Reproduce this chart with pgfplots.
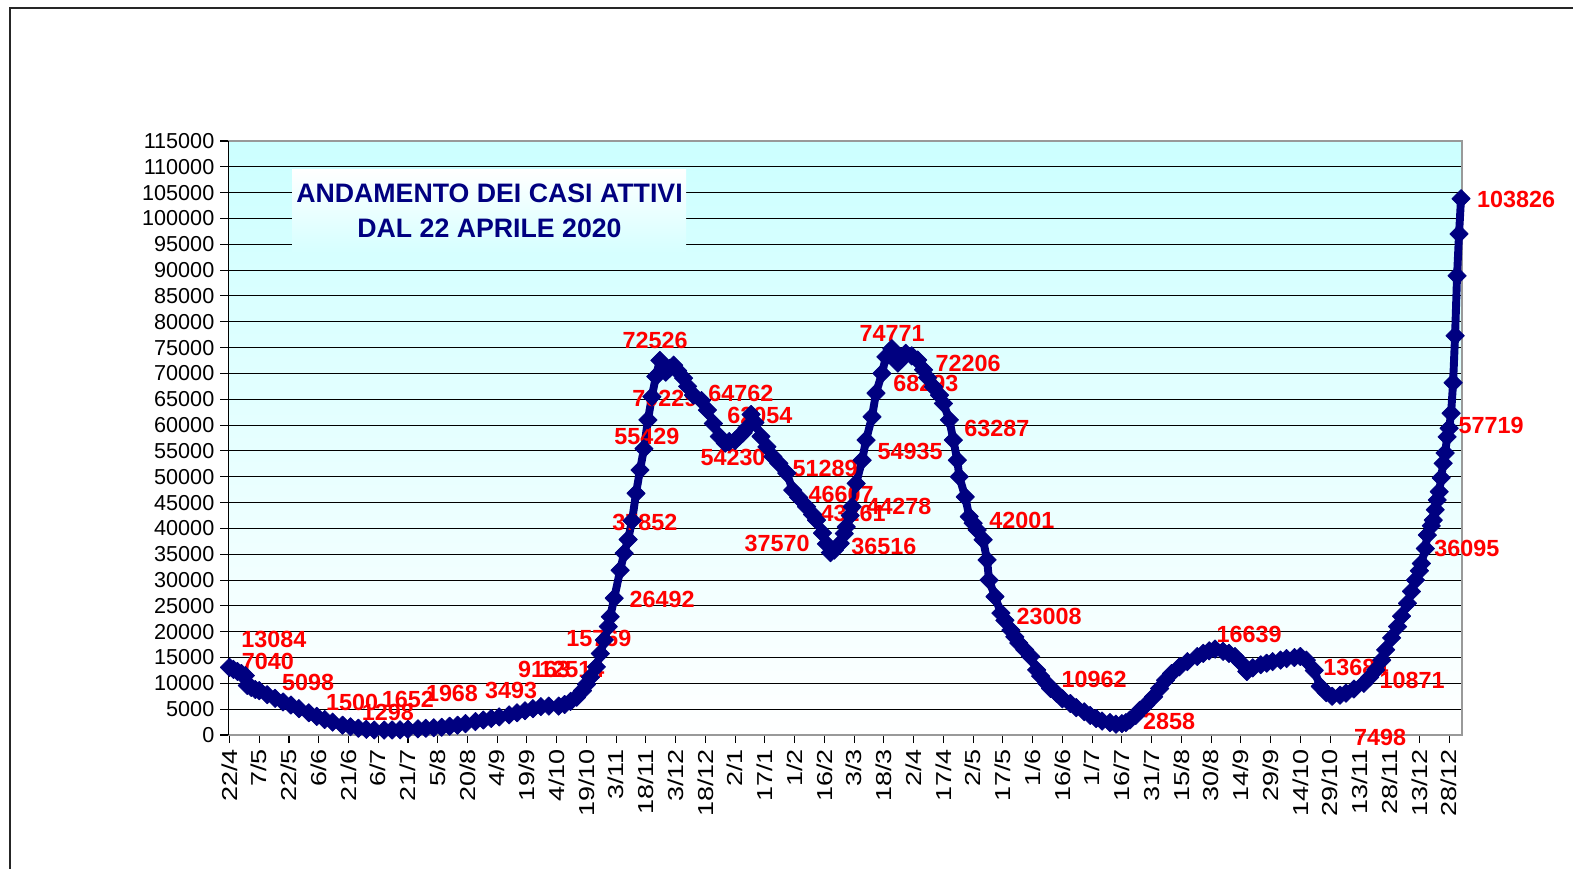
\documentclass[border=0pt]{standalone}
\usepackage{fontspec}
\setmainfont{Liberation Sans}
\newfontfamily\stretchfont[FakeStretch=1.25]{Liberation Sans}
\usepackage{pgfplots}
\usepackage{pgfplotstable}
\pgfplotsset{compat=1.18}
\definecolor{navy}{RGB}{0,0,128}
\definecolor{bgtop}{RGB}{204,255,255}
\definecolor{boxbot}{RGB}{214,255,255}
\definecolor{lblred}{RGB}{255,0,0}
\tikzset{lbl/.style={font=\fontsize{13.3}{15}\selectfont\bfseries, text=lblred, inner sep=0pt, anchor=center}}
\pgfplotstableread{
day value
0 13084
2 12700
4 12300
6 11900
8 11500
9 9600
11 9200
13 8800
15 8600
19 7800
23 7100
27 6400
31 5800
35 5100
40 4300
44 3600
48 3000
52 2500
57 1900
61 1600
65 1300
69 1100
73 970
78 950
82 970
86 1000
90 1100
95 1200
99 1300
103 1400
107 1500
111 1700
115 1900
119 2200
124 2600
128 2900
132 3200
136 3500
141 3900
145 4300
149 4700
153 5100
157 5500
161 5600
166 5600
169 5900
172 6500
175 7300
178 8600
180 9800
182 11200
185 13200
187 15769
189 18400
191 21000
192 22900
194 26492
197 31900
199 35200
201 37852
203 41500
205 46800
207 51300
209 55429
211 61000
213 65500
215 69400
217 72526
220 70229
222 71000
224 71600
226 70500
229 69100
231 67500
234 65800
238 64762
241 62900
244 60300
247 57800
250 56500
252 56800
255 57000
257 57800
259 58500
261 59500
263 62054
265 60500
268 57800
271 55800
274 53900
277 52600
281 50700
284 47400
287 46000
291 44200
294 42700
296 41600
299 39100
301 37000
303 35300
305 35800
308 37100
310 39000
311 40300
313 42500
314 44200
316 48700
319 53200
321 57100
324 61600
326 66200
329 70000
331 73200
334 74771
337 72000
339 72800
341 73900
344 73400
347 72600
350 70700
352 69200
355 67400
358 65800
360 64200
363 61000
365 57100
367 53200
368 50000
371 46100
373 42300
375 41000
377 39700
380 37800
382 33900
383 30000
386 26800
389 23600
391 22200
394 20300
396 19000
398 17800
401 16500
404 15200
407 12600
409 11400
412 10000
414 9000
417 8100
420 7000
424 6100
427 5300
431 4500
434 3800
437 3200
440 2700
444 2400
447 2100
450 2200
452 2400
454 2900
457 3800
459 4800
462 5800
466 7400
469 9000
472 10600
475 11900
479 13200
483 14200
488 15200
491 15800
494 16300
497 16639
501 16200
504 15800
507 15200
510 14000
513 12300
516 13000
520 13600
523 13900
526 14200
530 14500
533 14800
537 15000
540 15200
543 14500
547 12500
550 9400
553 8200
556 7498
560 7700
563 8100
567 8900
572 10000
575 11200
578 12600
581 14500
583 16500
586 18800
589 21000
591 23000
594 25500
596 27800
598 30000
600 31800
601 33200
603 36095
604 38700
606 40500
607 41600
608 43600
609 45500
610 47100
611 49800
612 52600
613 54600
614 57719
615 59400
616 62300
617 68200
618 77300
619 88900
620 97000
621 103826
}\casidata
\begin{document}
\begin{tikzpicture}
\useasboundingbox (0,0) rectangle (31.46,-17.38);
\fill[white] (0,0) rectangle (31.46,-17.38);
\draw[line width=0.9pt, black!85] (0.2,-17.5) -- (0.2,-0.16) -- (31.6,-0.16);
\begin{axis}[
  at={(4.57cm,-14.70cm)}, anchor=south west,
  scale only axis, width=24.67cm, height=11.88cm,
  xmin=-0.5, xmax=621.5, ymin=0, ymax=115000,
  clip=false,
  axis background/.style={top color=bgtop, bottom color=white},
  axis line style={gray!80, line width=0.8pt},
  ymajorgrids, grid style={black, line width=0.6pt},
  ytick distance=5000,
  scaled y ticks=false,
  xtick={0,15,...,615},
  xticklabels={22/4,7/5,22/5,6/6,21/6,6/7,21/7,5/8,20/8,4/9,19/9,4/10,19/10,3/11,18/11,3/12,18/12,2/1,17/1,1/2,16/2,3/3,18/3,2/4,17/4,2/5,17/5,1/6,16/6,1/7,16/7,31/7,15/8,30/8,14/9,29/9,14/10,29/10,13/11,28/11,13/12,28/12},
  tick pos=left, tick align=outside, major tick length=0.16cm,
  tick style={black, line width=0.6pt},
  yticklabel style={font=\fontsize{12.3}{14}\selectfont, /pgf/number format/fixed, /pgf/number format/1000 sep={}, /pgf/number format/assume math mode=true},
  xticklabel style={font=\stretchfont\fontsize{12.3}{14}\selectfont, rotate=90, anchor=east},
]
\draw[black, line width=0.8pt] (rel axis cs:0,0) -- (rel axis cs:0,1);
\addplot[navy, line width=4.5pt, line join=round, line cap=round, mark=square*, mark size=3.7pt,
  mark options={rotate=45, fill=navy, draw=navy, line width=0.4pt}] table[x=day, y=value] {\casidata};
\node[lbl] at (axis cs:22.4,18590) {13084};
\node[lbl] at (axis cs:19.4,14326) {7040};
\node[lbl] at (axis cs:39.6,10261) {5098};
\node[lbl] at (axis cs:61.8,6389) {1500};
\node[lbl] at (axis cs:79.9,4453) {1298};
\node[lbl] at (axis cs:90.0,6970) {1652};
\node[lbl] at (axis cs:112.2,8131) {1968};
\node[lbl] at (axis cs:142.0,8712) {3493};
\node[lbl] at (axis cs:158.6,12778) {9163};
\node[lbl] at (axis cs:172.7,12778) {12514};
\node[lbl] at (axis cs:186.3,18779) {15769};
\node[lbl] at (axis cs:218.1,26330) {26492};
\node[lbl] at (axis cs:209.5,41237) {37852};
\node[lbl] at (axis cs:210.5,57886) {55429};
\node[lbl] at (axis cs:219.6,65243) {70229};
\node[lbl] at (axis cs:214.6,76472) {72526};
\node[lbl] at (axis cs:257.9,66211) {64762};
\node[lbl] at (axis cs:267.5,61952) {62054};
\node[lbl] at (axis cs:253.9,53821) {54230};
\node[lbl] at (axis cs:300.3,51691) {51289};
\node[lbl] at (axis cs:308.4,46658) {46607};
\node[lbl] at (axis cs:314.5,42979) {43261};
\node[lbl] at (axis cs:276.1,37171) {37570};
\node[lbl] at (axis cs:330.0,36590) {36516};
\node[lbl] at (axis cs:337.6,44334) {44278};
\node[lbl] at (axis cs:343.2,54982) {54935};
\node[lbl] at (axis cs:334.1,77827) {74771};
\node[lbl] at (axis cs:351.2,68147) {68293};
\node[lbl] at (axis cs:372.4,72019) {72206};
\node[lbl] at (axis cs:387.0,59435) {63287};
\node[lbl] at (axis cs:399.6,41624) {42001};
\node[lbl] at (axis cs:413.3,23038) {23008};
\node[lbl] at (axis cs:436.0,10842) {10962};
\node[lbl] at (axis cs:473.8,2710) {2858};
\node[lbl] at (axis cs:514.1,19554) {16639};
\node[lbl] at (axis cs:568.0,13165) {13684};
\node[lbl] at (axis cs:596.3,10648) {10871};
\node[lbl] at (axis cs:580.2,-387) {7498};
\node[lbl] at (axis cs:624.0,36203) {36095};
\node[lbl] at (axis cs:636.2,60016) {57719};
\node[lbl] at (axis cs:648.8,103770) {103826};
\end{axis}
\shade[top color=white, bottom color=boxbot] (5.84,-3.40) rectangle (13.72,-5.04);
\node[align=center, text=navy, font=\fontsize{15.2}{19.9}\selectfont\bfseries] at (9.79,-4.21) {ANDAMENTO DEI CASI ATTIVI\\DAL 22 APRILE 2020};
\end{tikzpicture}
\end{document}
